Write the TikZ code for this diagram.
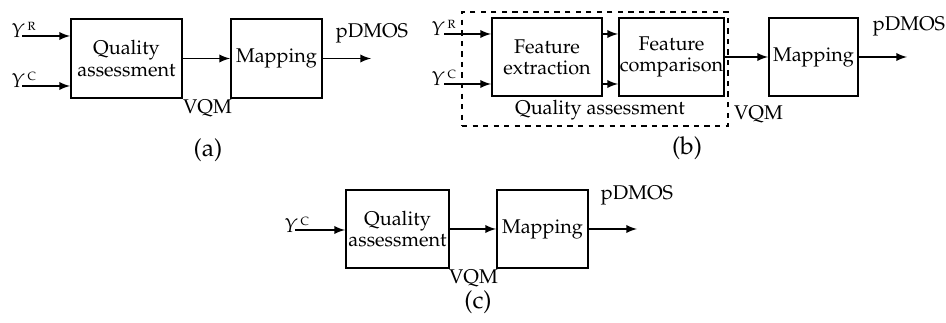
\documentclass[tikz,border=0pt]{standalone}
\usepackage[T1]{fontenc}
\usepackage{mathpazo}
\usepackage{tikz}
\usetikzlibrary{positioning}

\begin{document}
\begin{tikzpicture}[x=0.02cm, y=-0.02cm, font=\fontsize{11.3}{12}\selectfont,
							block/.style = {rectangle, draw, line width=1.1pt, align=center, inner sep=0pt, minimum height=1.57cm},
							flow/.style = {-latex, line width=1.1pt},
							lbl/.style = {inner sep=0pt},
							sublbl/.style = {inner sep=0pt, font=\fontsize{14}{16}\selectfont}]
			\useasboundingbox (0,0) rectangle (946,323);
			% (a)
			\node[block, minimum width=2.22cm] (qa1) at (126.5,58.5) {Quality\\assessment};
			\node[block, minimum width=1.82cm] (map1) at (276.5,58.5) {Mapping};
			\node[lbl, anchor=base west] (yr1) at (11,38) {$Y^{\,\scriptscriptstyle\mathrm{R}}$};
			\node[lbl, anchor=base west] (yc1) at (11,88) {$Y^{\,\scriptscriptstyle\mathrm{C}}$};
			\coordinate (inr1) at (22,36);
			\coordinate (inc1) at (22,86);
			\coordinate (out1) at (371,58.5);
			\node[lbl] (vqm1) at (207.5,108) {VQM};
			\node[lbl] (dm1) at (372,33) {pDMOS};
			\node[sublbl] (sub1) at (208,150) {(a)};
			
			\draw[flow] (inr1) to (qa1.west |- inr1);
			\draw[flow] (inc1) to (qa1.west |- inc1);
			\draw[flow] (qa1) to (map1);
			\draw[flow] (map1) to (out1);
			
			% (b)
			\node[draw, line width=1.1pt, dashed, minimum width=5.32cm, minimum height=2.28cm] (qa2) at (595,69) {};
			\node[block, minimum width=2.2cm] (fe2) at (547,57) {Feature\\extraction};
			\node[block, minimum width=2.1cm] (fc2) at (671.5,57) {Feature\\comparison};
			\node[block, minimum width=1.78cm] (map2) at (813.5,57) {Mapping};
			\node[lbl] (qal2) at (600,110) {Quality assessment};
			\node[lbl, anchor=base west] (yr2) at (431,36) {$Y^{\,\scriptscriptstyle\mathrm{R}}$};
			\node[lbl, anchor=base west] (yc2) at (431,86) {$Y^{\,\scriptscriptstyle\mathrm{C}}$};
			\coordinate (inr2) at (444,34);
			\coordinate (inc2) at (444,84);
			\coordinate (out2) at (907,57);
			\node[lbl] (vqm2) at (758.5,114) {VQM};
			\node[lbl] (dm2) at (909,26) {pDMOS};
			\node[sublbl] (sub2) at (687,148) {(b)};
			
			\draw[flow] (inr2) to (fe2.west |- inr2);
			\draw[flow] (inc2) to (fe2.west |- inc2);
			\draw[flow] (fe2.east |- inr2) to (fc2.west |- inr2);
			\draw[flow] (fe2.east |- inc2) to (fc2.west |- inc2);
			\draw[flow] (fc2) to (map2);
			\draw[flow] (map2) to (out2);
			
			% (c)
			\node[block, minimum width=2.06cm] (qa3) at (397.5,229) {Quality\\assessment};
			\node[block, minimum width=1.82cm] (map3) at (542.5,229) {Mapping};
			\node[lbl, anchor=base west] (yc3) at (284,233) {$Y^{\,\scriptscriptstyle\mathrm{C}}$};
			\coordinate (inc3) at (295,230);
			\coordinate (out3) at (637,229);
			\node[lbl] (vqm3) at (473.5,278) {VQM};
			\node[lbl] (dm3) at (637,195) {pDMOS};
			\node[sublbl] (sub3) at (478,302) {(c)};
			
			\draw[flow] (inc3) to (qa3.west |- inc3);
			\draw[flow] (qa3) to (map3);
			\draw[flow] (map3) to (out3);
		\end{tikzpicture}
\end{document}
